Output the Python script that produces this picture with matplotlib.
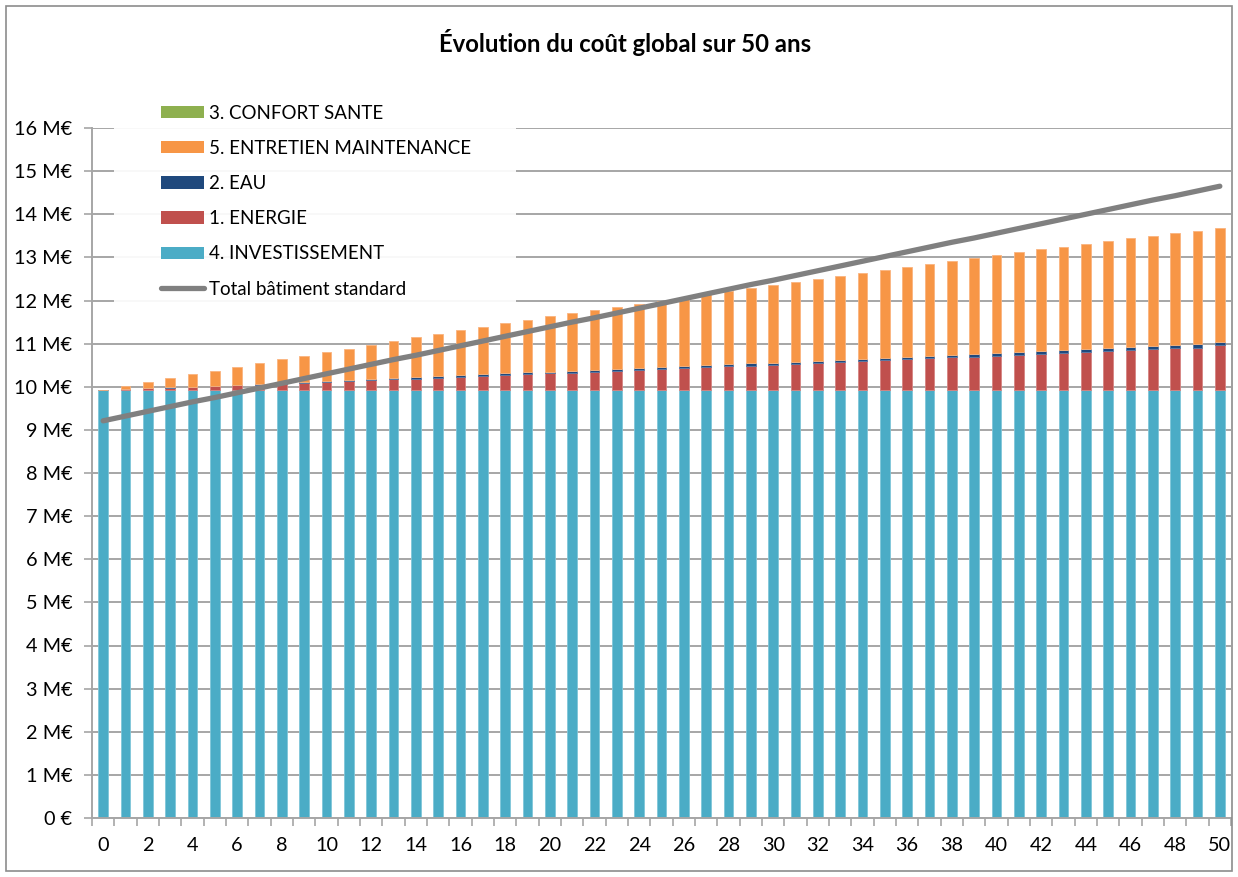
import matplotlib
matplotlib.use("Agg")
import matplotlib.pyplot as plt
from matplotlib.patches import Rectangle
from matplotlib.lines import Line2D
from matplotlib.patches import Patch
import numpy as np

plt.rcParams['font.family'] = ['Lato', 'DejaVu Sans']

years = list(range(0, 51))

investissement = [9.92] * 51

energie = [0.00, 0.02, 0.04, 0.06, 0.07, 0.09, 0.11, 0.13, 0.15, 0.17,
           0.19, 0.21, 0.23, 0.25, 0.27, 0.29, 0.31, 0.33, 0.35, 0.37,
           0.39, 0.41, 0.43, 0.45, 0.47, 0.49, 0.51, 0.53, 0.55, 0.57,
           0.59, 0.61, 0.63, 0.65, 0.67, 0.69, 0.72, 0.74, 0.76, 0.77,
           0.80, 0.82, 0.84, 0.86, 0.88, 0.91, 0.94, 0.95, 0.98, 0.99, 1.04]

eau = [0.000, 0.005, 0.007, 0.010, 0.012, 0.014, 0.016, 0.018, 0.020, 0.022,
       0.024, 0.026, 0.028, 0.030, 0.032, 0.034, 0.036, 0.038, 0.040, 0.041,
       0.042, 0.043, 0.044, 0.045, 0.046, 0.047, 0.048, 0.049, 0.050, 0.051,
       0.052, 0.053, 0.054, 0.055, 0.056, 0.057, 0.058, 0.059, 0.060, 0.061,
       0.062, 0.063, 0.064, 0.065, 0.066, 0.067, 0.068, 0.069, 0.070, 0.071, 0.072]

entretien = [0.00, 0.07, 0.14, 0.21, 0.29, 0.35, 0.41, 0.48, 0.55, 0.61,
             0.68, 0.73, 0.80, 0.86, 0.93, 0.99, 1.05, 1.10, 1.16, 1.22,
             1.28, 1.34, 1.39, 1.44, 1.49, 1.54, 1.60, 1.65, 1.70, 1.75,
             1.80, 1.85, 1.90, 1.94, 1.99, 2.04, 2.08, 2.13, 2.18, 2.24,
             2.28, 2.32, 2.36, 2.40, 2.44, 2.48, 2.51, 2.55, 2.59, 2.62, 2.66]

confort = [0.0] * 51

total_standard = [9.21, 9.32, 9.43, 9.54, 9.65, 9.75, 9.86, 9.97, 10.08, 10.19,
                  10.30, 10.41, 10.52, 10.63, 10.73, 10.84, 10.95, 11.06, 11.17, 11.28,
                  11.39, 11.50, 11.60, 11.71, 11.82, 11.93, 12.04, 12.15, 12.26, 12.37,
                  12.47, 12.58, 12.69, 12.80, 12.91, 13.02, 13.13, 13.24, 13.35, 13.45,
                  13.56, 13.67, 13.78, 13.89, 14.00, 14.11, 14.22, 14.33, 14.43, 14.54, 14.65]

y_labels = ["0 €"] + [f"{i} M€" for i in range(1, 17)]

c_inv = "#4bacc6"
c_ene = "#c0504d"
c_eau = "#1f497d"
c_ent = "#f79646"
c_con = "#8eb04f"
c_tot = "#808080"

W, H = 1238, 877
fig = plt.figure(figsize=(W / 100, H / 100), dpi=100)
ax = fig.add_axes([92 / W, 1 - 818 / H, (1231 - 92) / W, (818 - 128) / H])

x = np.array(years)
bw = 0.42
b0 = np.zeros(51)
series = [(investissement, c_inv, "#7fc6d9"), (energie, c_ene, "#d68482"),
          (eau, c_eau, "#5a7aa6"), (entretien, c_ent, "#fab47f"),
          (confort, c_con, "none")]
for vals, col, ecol in series:
    v = np.array(vals)
    ax.bar(x, v, bw, bottom=b0, color=col, edgecolor=ecol,
           linewidth=0.0 if ecol == "none" else 0.6, zorder=2)
    b0 = b0 + v

ax.plot(x, total_standard, color=c_tot, linewidth=3.8, solid_capstyle='round', zorder=3)

ax.set_xlim(-0.5, 50.5)
ax.set_ylim(0, 16)
ax.set_yticks(range(0, 17))
ax.set_yticklabels(y_labels)
ax.yaxis.grid(True, color="#a6a6a6", linewidth=1.4, zorder=0)
ax.set_axisbelow(True)

ax.set_xticks(np.arange(-0.5, 51, 1.0))
ax.set_xticklabels([])
ax.set_xticks(range(0, 51, 2), minor=True)
ax.set_xticklabels([str(i) for i in range(0, 51, 2)], minor=True)
ax.tick_params(axis='x', which='major', length=6, width=1.2, color="#a6a6a6", direction='out')
ax.tick_params(axis='x', which='minor', length=0, pad=14, labelsize=14.3)
ax.tick_params(axis='y', length=6, width=1.2, color="#a6a6a6", pad=8, labelsize=14.3)

for s in ['top', 'right']:
    ax.spines[s].set_visible(False)
for s in ['left', 'bottom']:
    ax.spines[s].set_color("#a6a6a6")
    ax.spines[s].set_linewidth(1.4)

# legend background area (semi-opaque white over gridlines)
fig.patches.append(Rectangle((114 / W, 1 - 315 / H), (516 - 114) / W, (315 - 95) / H,
                             transform=fig.transFigure, facecolor='white', alpha=0.93,
                             edgecolor='none', zorder=1))

handles = [Patch(facecolor=c_con, edgecolor='none'),
           Patch(facecolor=c_ent, edgecolor='none'),
           Patch(facecolor=c_eau, edgecolor='none'),
           Patch(facecolor=c_ene, edgecolor='none'),
           Patch(facecolor=c_inv, edgecolor='none'),
           Line2D([0], [0], color=c_tot, linewidth=3.8, solid_capstyle='round')]
labels = ["3. CONFORT SANTE", "5. ENTRETIEN MAINTENANCE", "2. EAU", "1. ENERGIE",
          "4. INVESTISSEMENT", "Total bâtiment standard"]
leg = fig.legend(handles, labels, loc='upper left', bbox_to_anchor=(155 / W, 1 - 99 / H),
                 frameon=False, fontsize=13.5, handlelength=2.3, handleheight=0.65,
                 handletextpad=0.27, labelspacing=0.97, borderpad=0.3, borderaxespad=0.0)

fig.text(625 / W, 1 - 42 / H, "Évolution du coût global sur 50 ans", ha='center', va='center',
         fontsize=17.2, fontweight='bold')

fig.patches.append(Rectangle((6 / W, 1 - 871 / H), (1232 - 6) / W, (871 - 6) / H,
                             transform=fig.transFigure, fill=False, edgecolor="#8c8c8c",
                             linewidth=1.2))

fig.savefig("out.png", dpi=100)
